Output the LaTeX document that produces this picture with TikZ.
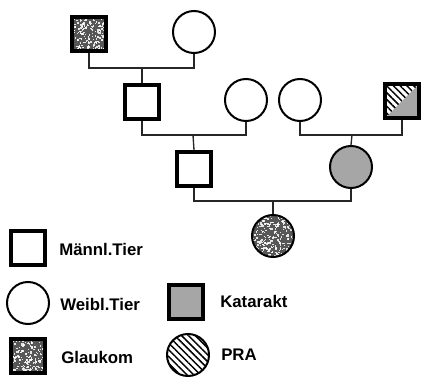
\documentclass[tikz,border=0pt]{standalone}
\usepackage{fontspec}
\setmainfont{Liberation Sans}
\usetikzlibrary{patterns.meta}
\begin{document}
\begin{tikzpicture}[x=0.75pt,y=-0.75pt,
  male/.style={draw,rectangle,line width=3pt,minimum size=25.5pt,inner sep=0pt,fill=white},
  female/.style={draw,circle,line width=1.5pt,minimum size=31.5pt,inner sep=0pt,fill=white},
  glaukom/.style={fill=black!66,path picture={
      \pgfmathsetseed{#1}
      \foreach \k in {1,...,380}{
        \fill[white,opacity=0.85] ([shift={(rand*24,rand*24)}]path picture bounding box.center) rectangle ++(1.4,1.4);
      }}},
  glaukom/.default=7,
  katarakt/.style={fill=black!35},
  hatch/.style={pattern={Lines[angle=-45,distance=3.6pt,line width=1.1pt]}},
  link/.style={line width=1pt,black!85},
  legend/.style={anchor=west,font=\fontsize{12.6pt}{15pt}\selectfont\bfseries,inner sep=0pt}]
\useasboundingbox (0,0) rectangle (422,378);
% pedigree
\node[male,glaukom=3] (g1) at (89,34) {};
\node[female] (f1) at (194,32) {};
\node[male] (m2) at (142,102) {};
\node[female] (f2) at (246,100) {};
\node[female] (f3) at (300,100) {};
\node[male,path picture={
   \fill[black!35] (path picture bounding box.south west) -- (path picture bounding box.south east) -- (path picture bounding box.north east) -- cycle;
   \fill[hatch] (path picture bounding box.south west) -- (path picture bounding box.north west) -- (path picture bounding box.north east) -- cycle;
 }] (m3) at (402,101) {};
\node[male] (m4) at (194,169) {};
\node[female,katarakt] (f4) at (351,167) {};
\node[female,glaukom=11] (f5) at (273,236) {};
\coordinate (j1) at (142,68);
\coordinate (j2) at (193,135);
\coordinate (j3) at (352,135);
\coordinate (j4) at (273,201);
\draw[link] (g1.south) |- (j1) -| (f1.south);
\draw[link] (j1) -- (m2.north);
\draw[link] (m2.south) |- (j2) -| (f2.south);
\draw[link] (j2) -- (m4.north);
\draw[link] (f3.south) |- (j3) -| (m3.south);
\draw[link] (j3) -- (f4.north);
\draw[link] (m4.south) |- (j4) -| (f4.south);
\draw[link] (j4) -- (f5.north);
% legend
\node[male] (lm) at (28,248) {};
\node[legend] (tm) at (59,249) {Männl.Tier};
\node[female] (lf) at (28,303) {};
\node[legend] (tf) at (60,304) {Weibl.Tier};
\node[male,glaukom=5] (lg) at (28,356) {};
\node[legend] (tg) at (61,357) {Glaukom};
\node[male,katarakt] (lk) at (186,302) {};
\node[legend] (tk) at (220,301) {Katarakt};
\node[female,hatch] (lp) at (188,355) {};
\node[legend] (tp) at (221,355) {PRA};
\end{tikzpicture}
\end{document}
